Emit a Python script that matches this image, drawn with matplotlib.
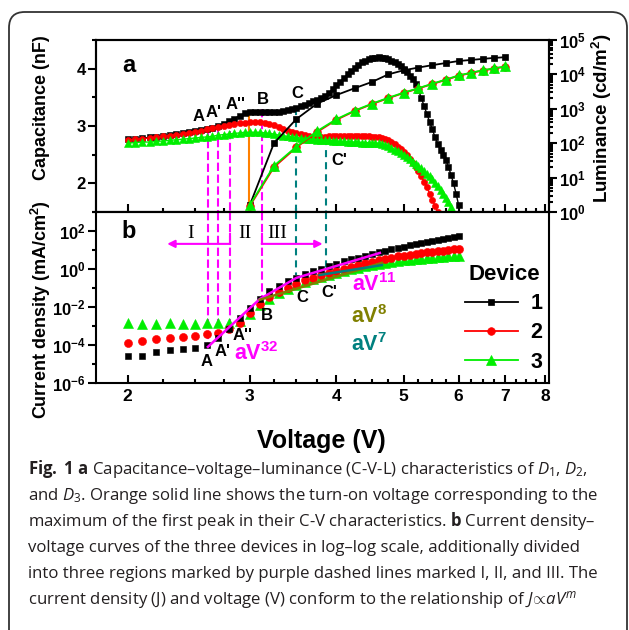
import numpy as np
import matplotlib
matplotlib.use("Agg")
import matplotlib.pyplot as plt
from matplotlib import ticker
from matplotlib.patches import FancyBboxPatch

# ---------------- data ----------------
# panel a : capacitance sweep (nF)
cv_volt = [2.00, 2.05, 2.10, 2.15, 2.20, 2.25, 2.30, 2.35, 2.40, 2.45,
           2.50, 2.55, 2.60, 2.65, 2.70, 2.75, 2.80, 2.85, 2.90, 2.95,
           3.00, 3.05, 3.10, 3.15, 3.20, 3.25, 3.30, 3.35, 3.40, 3.45,
           3.50, 3.55, 3.60, 3.65, 3.70, 3.75, 3.80, 3.85, 3.90, 3.95,
           4.00, 4.05, 4.10, 4.15, 4.20, 4.25, 4.30, 4.35, 4.40, 4.45,
           4.50, 4.55, 4.60, 4.65, 4.70, 4.75, 4.80, 4.85, 4.90, 4.95,
           5.00, 5.05, 5.10, 5.15, 5.20, 5.25, 5.30, 5.35, 5.40, 5.45,
           5.50, 5.55, 5.60, 5.65, 5.70, 5.75, 5.80, 5.85, 5.90, 5.95,
           6.00]
cap_d1 = [2.77, 2.78, 2.79, 2.80, 2.81, 2.83, 2.84, 2.86, 2.87, 2.89,
          2.91, 2.93, 2.95, 2.97, 3.00, 3.04, 3.08, 3.13, 3.18, 3.22,
          3.24, 3.25, 3.25, 3.24, 3.24, 3.24, 3.25, 3.26, 3.28, 3.30,
          3.32, 3.35, 3.37, 3.40, 3.43, 3.46, 3.49, 3.53, 3.58, 3.64,
          3.71, 3.77, 3.84, 3.90, 3.96, 4.02, 4.07, 4.11, 4.14, 4.16,
          4.18, 4.19, 4.20, 4.19, 4.18, 4.16, 4.14, 4.11, 4.09, 4.05,
          4.00, 3.94, 3.88, 3.82, 3.74, 3.63, 3.49, 3.35, 3.21, 3.07,
          2.94, 2.80, 2.69, 2.59, 2.50, 2.41, 2.29, 2.15, 2.00, 1.82,
          1.62]
cap_d2 = [2.76, 2.77, 2.78, 2.79, 2.80, 2.82, 2.83, 2.85, 2.86, 2.88,
          2.90, 2.92, 2.94, 2.96, 2.98, 3.00, 3.02, 3.04, 3.05, 3.06,
          3.07, 3.07, 3.07, 3.06, 3.04, 3.01, 2.98, 2.95, 2.92, 2.90,
          2.88, 2.86, 2.84, 2.82, 2.81, 2.81, 2.81, 2.81, 2.82, 2.82,
          2.82, 2.82, 2.82, 2.82, 2.82, 2.82, 2.82, 2.82, 2.82, 2.82,
          2.81, 2.81, 2.80, 2.79, 2.77, 2.75, 2.72, 2.68, 2.64, 2.60,
          2.55, 2.49, 2.43, 2.36, 2.29, 2.21, 2.12, 2.03, 1.93, 1.82,
          1.71, 1.60, 1.50]
cap_d3 = [2.70, 2.71, 2.72, 2.72, 2.73, 2.74, 2.75, 2.76, 2.77, 2.78,
          2.79, 2.80, 2.81, 2.82, 2.84, 2.85, 2.86, 2.87, 2.88, 2.89,
          2.89, 2.89, 2.89, 2.88, 2.87, 2.86, 2.84, 2.83, 2.82, 2.81,
          2.80, 2.79, 2.78, 2.77, 2.77, 2.76, 2.76, 2.75, 2.75, 2.74,
          2.74, 2.73, 2.73, 2.72, 2.72, 2.72, 2.72, 2.71, 2.71, 2.71,
          2.70, 2.70, 2.70, 2.69, 2.67, 2.65, 2.62, 2.59, 2.56, 2.53,
          2.50, 2.46, 2.42, 2.38, 2.34, 2.30, 2.26, 2.21, 2.17, 2.12,
          2.07, 2.01, 1.95, 1.89, 1.82, 1.75, 1.67, 1.59]

# panel a : luminance (cd/m2)
lv_volt = [3.00, 3.25, 3.50, 3.75, 4.00, 4.25, 4.50, 4.75, 5.00,
           5.25, 5.50, 5.75, 6.00, 6.25, 6.50, 6.75, 7.00]
lum_d1 = [1.6, 100, 500, 1410, 2510, 3980, 6030, 10000, 13200,
          15800, 18600, 21400, 24500, 26300, 28200, 30200, 31600]
lum_d2 = [1.5, 20, 75, 210, 480, 860, 1370, 2030, 2880,
          3890, 5250, 6920, 9120, 11000, 12900, 14800, 16600]
lum_d3 = [1.6, 22, 79, 224, 500, 890, 1410, 2090, 2950,
          3980, 5370, 7080, 9330, 11200, 13200, 15100, 17000]

# panel b : current density (mA/cm2)
jv_volt = [2.0, 2.1, 2.2, 2.3, 2.4, 2.5, 2.6, 2.7, 2.8, 2.9,
           3.0, 3.1, 3.2, 3.3, 3.4, 3.5, 3.6, 3.7, 3.8, 3.9,
           4.0, 4.1, 4.2, 4.3, 4.4, 4.5, 4.6, 4.7, 4.8, 4.9,
           5.0, 5.1, 5.2, 5.3, 5.4, 5.5, 5.6, 5.7, 5.8, 5.9, 6.0]
j_d1 = [2.8e-5, 2.8e-5, 4.2e-5, 5.4e-5, 6.0e-5, 7.2e-5, 1.0e-4, 2.4e-4, 7.1e-4, 2.6e-3,
        8.9e-3, 2.8e-2, 6.6e-2, 0.126, 0.22, 0.355, 0.55, 0.79, 1.05, 1.45,
        1.9, 2.5, 3.2, 4.0, 5.0, 6.3, 7.9, 9.3, 11.0, 12.9,
        15.1, 17.4, 20.0, 22.9, 26.3, 29.5, 33.1, 37.2, 41.7, 46.8, 52.5]
j_d2 = [1.3e-4, 1.6e-4, 2.1e-4, 2.3e-4, 2.5e-4, 3.0e-4, 3.8e-4, 4.3e-4, 7.2e-4, 1.45e-3,
        5.0e-3, 1.4e-2, 3.2e-2, 6.0e-2, 0.105, 0.166, 0.25, 0.355, 0.48, 0.63,
        0.81, 1.05, 1.32, 1.66, 2.04, 2.45, 2.95, 3.47, 3.98, 4.57,
        5.13, 5.75, 6.3, 6.9, 7.6, 8.1, 8.7, 9.3, 10.0, 10.7, 11.5]
j_d3 = [1.4e-3, 1.35e-3, 1.35e-3, 1.4e-3, 1.35e-3, 1.35e-3, 1.4e-3, 1.4e-3, 1.45e-3, 1.8e-3,
        4.5e-3, 1.26e-2, 2.8e-2, 5.2e-2, 8.9e-2, 0.138, 0.204, 0.29, 0.39, 0.5,
        0.63, 0.79, 0.98, 1.17, 1.41, 1.66, 1.9, 2.14, 2.4, 2.63,
        2.88, 3.09, 3.31, 3.55, 3.8, 3.98, 4.17, 4.37, 4.57, 4.79, 5.0]

# power-law guide lines (J ~ aV^m)
fit_mag_v = [2.61, 3.10, 3.50, 4.62]
fit_mag_j = [8.0e-5, 2.6e-2, 0.34, 7.0]
fit_oli_v = [3.10, 4.65]
fit_oli_j = [2.4e-2, 2.1]
fit_tea_v = [3.78, 4.65]
fit_tea_j = [0.48, 1.6]

# region boundaries
mag_v = [2.61, 2.70, 2.81, 3.12]          # A, A', A'', B
mag_cap = [2.96, 2.98, 2.92, 3.30]
mag_j = [1.1e-4, 3.8e-4, 1.3e-3, 3.0e-2]
teal_v = [3.50, 3.86]                     # C, C'
teal_cap = [3.32, 2.79]
teal_j = [0.48, 0.48]
turn_on_v, turn_on_cap = 2.99, 3.25

devices = ['1', '2', '3']
colors = ['#000000', '#ff0000', '#00ee00']
markers = ['s', 'o', '^']
x_ticks = [2, 3, 4, 5, 6, 7, 8]
x_labels = ['2', '3', '4', '5', '6', '7', '8']
j_ticks = [1e-6, 1e-4, 1e-2, 1, 1e2]
j_labels = [r'10$^{\mathdefault{-6}}$', r'10$^{\mathdefault{-4}}$', r'10$^{\mathdefault{-2}}$',
            r'10$^{\mathdefault{0}}$', r'10$^{\mathdefault{2}}$']

MAG, TEAL, OLIVE, ORANGE = '#ff00ff', '#00807f', '#808000', '#ff8000'

plt.rcParams['font.family'] = ['Liberation Sans', 'DejaVu Sans']
plt.rcParams['font.weight'] = 'bold'
plt.rcParams['axes.linewidth'] = 1.5
plt.rcParams['mathtext.fontset'] = 'custom'
plt.rcParams['mathtext.rm'] = 'Open Sans:weight=normal'
plt.rcParams['mathtext.it'] = 'Open Sans:style=italic:weight=normal'
plt.rcParams['mathtext.bf'] = 'Open Sans:weight=bold'

fig = plt.figure(figsize=(6.29, 6.30), dpi=100)
fig.patch.set_facecolor('white')
fig.patches.append(FancyBboxPatch((9/629, -0.05), 618/629, 1 - 12/630 + 0.05,
                                  boxstyle='round,pad=0,rounding_size=0.025',
                                  transform=fig.transFigure, fill=False,
                                  ec='#333333', lw=1.3))

ax1 = fig.add_axes([96/629, 1 - 212/630, 453/629, 172/630])
ax2 = fig.add_axes([96/629, 1 - 383/630, 453/629, 171/630], sharex=ax1)
ax1r = ax1.twinx()

# ---- panel a ----
for caps, c, m, ms in zip([cap_d1, cap_d2, cap_d3], colors, markers, [4.2, 4.5, 5.2]):
    ax1.plot(cv_volt[:len(caps)], caps, marker=m, color=c, ms=ms, mew=0.4, lw=1, zorder=3)

ax1.set_ylim(1.5, 4.5)
for v, c in zip(mag_v, mag_cap):
    ax1.plot([v, v], [c, 1.5], color=MAG, lw=1.5, dashes=(4, 1.7), zorder=2)
for v, c in zip(teal_v, teal_cap):
    ax1.plot([v, v], [c, 1.5], color=TEAL, lw=1.5, dashes=(3.4, 2.4), zorder=2)
ax1.plot([turn_on_v, turn_on_v], [turn_on_cap, 1.5], color=ORANGE, lw=1.5, zorder=2)

lv_lines = []
for lum, c, m, ms in zip([lum_d1, lum_d2, lum_d3], colors, markers, [5, 5.5, 6.5]):
    ln, = ax1r.plot(lv_volt, lum, marker=m, color=c, ms=ms, mew=0.5, lw=1.3)
    lv_lines.append(ln)
ax1r.set_yscale('log')
ax1r.set_ylim(1, 1e5)

top_labels = [('A', 2.53, 3.16), ("A'", 2.66, 3.23), ("A''", 2.86, 3.37),
              ('B', 3.13, 3.46), ('C', 3.51, 3.57), ("C'", 4.04, 2.40)]
for s, x, y in top_labels:
    ax1.text(x, y, s, fontsize=12, ha='center', va='center', zorder=5)
ax1.text(0.072, 0.814, 'a', transform=ax1.transAxes, fontsize=17, ha='center', va='baseline')

# ---- panel b ----
for j, c, m, ms in list(zip([j_d1, j_d2, j_d3], colors, markers, [5, 5.8, 6.5]))[::-1]:
    ax2.plot(jv_volt, j, ls='none', marker=m, color=c, ms=ms, mew=0.4, zorder=3)
ax2.plot(fit_mag_v, fit_mag_j, color=MAG, lw=1.8, zorder=4)
ax2.plot(fit_oli_v, fit_oli_j, color=OLIVE, lw=1.8, zorder=4)
ax2.plot(fit_tea_v, fit_tea_j, color=TEAL, lw=1.8, zorder=4)

ax2.set_yscale('log')
ax2.set_ylim(1e-6, 1e3)
for v, j in zip(mag_v, mag_j):
    ax2.plot([v, v], [1e3, j], color=MAG, lw=1.5, dashes=(4, 1.7), zorder=2)
for v, j in zip(teal_v, teal_j):
    ax2.plot([v, v], [1e3, j], color=TEAL, lw=1.5, dashes=(3.4, 2.4), zorder=2)

# region arrows
ax2.plot([mag_v[2], mag_v[2]], [70, 21], color=MAG, lw=1.5)
ax2.plot([mag_v[3], mag_v[3]], [70, 21], color=MAG, lw=1.5)
ax2.annotate('', xy=(2.28, 21), xytext=(mag_v[2], 21),
             arrowprops=dict(arrowstyle='-|>', color=MAG, lw=1.5, mutation_scale=11,
                             shrinkA=0, shrinkB=0))
ax2.annotate('', xy=(3.82, 21), xytext=(mag_v[3], 21),
             arrowprops=dict(arrowstyle='-|>', color=MAG, lw=1.5, mutation_scale=11,
                             shrinkA=0, shrinkB=0))
for s, x in [('I', 2.46), ('II', 2.95), ('III', 3.29)]:
    ax2.text(x, 78, s, family='Liberation Serif', weight='normal', fontsize=14,
             ha='center', va='center')

bot_labels = [('A', 2.60, 1.4e-5), ("A'", 2.74, 4.8e-5), ("A''", 2.93, 3.0e-4),
              ('B', 3.17, 3.4e-3), ('C', 3.57, 3.0e-2), ("C'", 3.91, 5.5e-2)]
for s, x, y in bot_labels:
    ax2.text(x, y, s, fontsize=12, ha='center', va='center', zorder=5)
for s, x, y, c in [(r'aV$^{\mathdefault{32}}$', 3.07, 3.4e-5, MAG),
                   (r'aV$^{\mathdefault{11}}$', 4.53, 0.16, MAG),
                   (r'aV$^{\mathdefault{8}}$', 4.46, 3.0e-3, OLIVE),
                   (r'aV$^{\mathdefault{7}}$', 4.46, 1.0e-4, TEAL)]:
    ax2.text(x, y, s, color=c, fontsize=15.5, ha='center', va='center', zorder=5)
ax2.text(0.072, 0.848, 'b', transform=ax2.transAxes, fontsize=17, ha='center', va='baseline')

# ---- axes cosmetics ----
ax2.set_xscale('log')
ax2.set_xlim(1.8, 8.1)
ax2.xaxis.set_major_locator(ticker.FixedLocator(x_ticks))
ax2.xaxis.set_major_formatter(ticker.FixedFormatter(x_labels))
ax2.xaxis.set_minor_locator(ticker.MultipleLocator(0.25))
ax2.xaxis.set_minor_formatter(ticker.NullFormatter())

ax1.yaxis.set_major_locator(ticker.FixedLocator([2, 3, 4]))
ax1.yaxis.set_minor_locator(ticker.MultipleLocator(0.5))
ax1r.yaxis.set_major_locator(ticker.LogLocator(base=10, numticks=10))
ax1r.yaxis.set_minor_locator(ticker.LogLocator(base=10, subs=np.arange(2, 10), numticks=10))
ax1r.yaxis.set_minor_formatter(ticker.NullFormatter())
ax2.yaxis.set_major_locator(ticker.FixedLocator(j_ticks))
ax2.yaxis.set_major_formatter(ticker.FixedFormatter(j_labels))
ax2.yaxis.set_minor_locator(ticker.LogLocator(base=10, subs=(1.0,), numticks=20))
ax2.yaxis.set_minor_formatter(ticker.NullFormatter())

for ax in (ax1, ax2, ax1r):
    ax.tick_params(axis='both', which='both', width=1.5, labelsize=12)
    ax.tick_params(axis='both', which='major', length=6)
    ax.tick_params(axis='both', which='minor', length=3)
for ax in (ax1, ax2):
    ax.tick_params(axis='x', which='both', direction='in', top=False, pad=4)
    ax.tick_params(axis='x', labelsize=12.5)
    ax.tick_params(axis='y', which='both', direction='out', pad=1.5)
ax1.tick_params(axis='x', labelbottom=False)
ax1r.tick_params(axis='y', which='both', direction='out', pad=1.5)

fig.text(41/629, 1 - 108/630, 'Capacitance (nF)', rotation=90, fontsize=13, ha='center', va='center')
fig.text(41/629, 1 - 310/630, r'Current density (mA/cm$^{\mathdefault{2}}$)', rotation=90,
         fontsize=13, ha='center', va='center')
fig.text(602/629, 1 - 118/630, r'Luminance (cd/m$^{\mathdefault{2}}$)', rotation=90,
         fontsize=13.5, ha='center', va='center')
fig.text(321/629, 1 - 448/630, 'Voltage (V)', fontsize=18, ha='center', va='baseline')

fig.legend(lv_lines, devices, title='Device', loc='upper left',
           bbox_to_anchor=(465/629, 1 - 264/630), bbox_transform=fig.transFigure,
           frameon=False, borderpad=0, borderaxespad=0, handlelength=2.45,
           handletextpad=0.6, labelspacing=0.38, fontsize=15.5, title_fontsize=16)

# ---- caption ----
caption = [
    r"$\mathbf{Fig.}$ $\mathbf{1}$ $\mathbf{a}$ Capacitance–voltage–luminance (C-V-L) characteristics of $D_1$, $D_2$,",
    r"and $D_3$. Orange solid line shows the turn-on voltage corresponding to the",
    r"maximum of the first peak in their C-V characteristics. $\mathbf{b}$ Current density–",
    "voltage curves of the three devices in log–log scale, additionally divided",
    "into three regions marked by purple dashed lines marked I, II, and III. The",
    r"current density (J) and voltage (V) conform to the relationship of $J\!\propto\! aV^{m}$",
]
caption_base = [474, 500, 526, 552, 578, 604]
cap_texts = [fig.text(28/629, 1 - b/630, s, family='Open Sans', weight='normal',
                      fontsize=11, va='baseline', color='#231f20')
             for s, b in zip(caption, caption_base)]
renderer = fig.canvas.get_renderer()
widest = max(t.get_window_extent(renderer).width for t in cap_texts)
for t in cap_texts:
    t.set_fontsize(11 * 572 / widest)

fig.savefig('out.png', dpi=100)
